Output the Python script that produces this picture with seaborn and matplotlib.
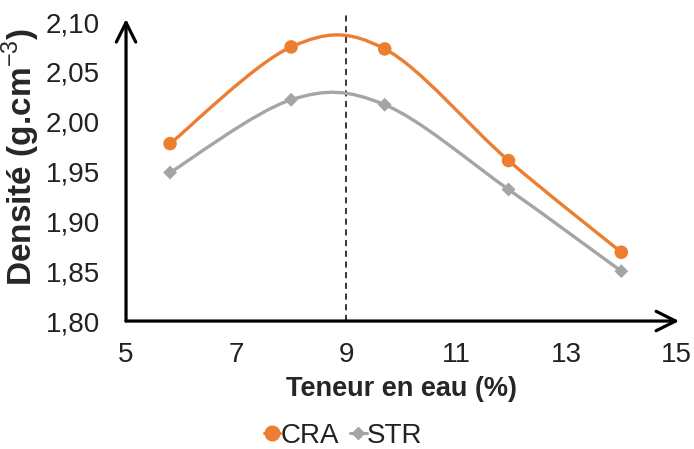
import matplotlib
matplotlib.use('Agg')
import matplotlib.pyplot as plt
import numpy as np
import pandas as pd
import seaborn as sns
from matplotlib.path import Path
from matplotlib.patches import PathPatch
from matplotlib.lines import Line2D

# Data
teneur = [5.8, 8.0, 9.7, 11.95, 14.0]
cra = [1.978, 2.075, 2.073, 1.961, 1.869]
strv = [1.949, 2.022, 2.017, 1.932, 1.850]
series_names = ['CRA', 'STR']
colors = ['#ED7D31', '#A5A5A5']
x_ticks = [5, 7, 9, 11, 13, 15]
y_ticks = [1.80, 1.85, 1.90, 1.95, 2.00, 2.05, 2.10]
optimum = 9


def smooth_path(xs, ys):
    # Excel-like smoothed line: Catmull-Rom segments as cubic Bezier curves
    pts = np.column_stack([xs, ys])
    verts = [pts[0]]
    codes = [Path.MOVETO]
    n = len(pts)
    for i in range(n - 1):
        p0 = pts[max(i - 1, 0)]
        p1 = pts[i]
        p2 = pts[i + 1]
        p3 = pts[min(i + 2, n - 1)]
        c1 = p1 + (p2 - p0) / 6
        c2 = p2 - (p3 - p1) / 6
        verts += [c1, c2, p2]
        codes += [Path.CURVE4] * 3
    return Path(verts, codes)


def main():
    sns.set_style('white')
    plt.rcParams['font.family'] = ['Liberation Sans', 'DejaVu Sans']
    plt.rcParams['mathtext.fontset'] = 'custom'
    plt.rcParams['mathtext.rm'] = 'Liberation Sans'
    plt.rcParams['mathtext.bf'] = 'Liberation Sans:bold'

    df = pd.DataFrame({
        'Teneur': teneur * 2,
        'Densite': cra + strv,
        'Serie': ['CRA'] * len(cra) + ['STR'] * len(strv),
    })

    fig = plt.figure(figsize=(6.94, 4.49), dpi=100)
    ax = fig.add_axes([0.1816, 0.285, 0.793, 0.666])

    # smoothed lines
    for name, col in zip(series_names, colors):
        sub = df[df['Serie'] == name]
        patch = PathPatch(smooth_path(sub['Teneur'].values, sub['Densite'].values),
                          facecolor='none', edgecolor=col, lw=2.4, zorder=3)
        ax.add_patch(patch)

    sns.scatterplot(data=df, x='Teneur', y='Densite', hue='Serie', style='Serie',
                    markers={'CRA': 'o', 'STR': 'D'},
                    palette=dict(zip(series_names, colors)),
                    ax=ax, legend=False, zorder=4, edgecolor='none')
    sizes = np.where(df['Serie'] == 'CRA', 95, 50)
    ax.collections[0].set_sizes(sizes)

    ax.axvline(optimum, ymin=0, ymax=1.023, color='black', lw=1.1,
               ls=(0, (4, 3)), zorder=2, clip_on=False)

    ax.set_xlim(5, 15)
    ax.set_ylim(1.80, 2.10)
    ax.set_xticks(x_ticks)
    ax.set_yticks(y_ticks)
    ax.set_yticklabels([f'{v:.2f}'.replace('.', ',') for v in y_ticks])
    ax.tick_params(axis='both', labelsize=20, direction='out', length=6, width=2,
                   color='black', labelcolor='#222222')
    ax.tick_params(axis='y', pad=13)
    ax.tick_params(axis='x', pad=9)

    for side in ['top', 'right', 'left', 'bottom']:
        ax.spines[side].set_visible(False)

    # axes with arrows
    arrow = dict(arrowstyle='->,head_length=0.5,head_width=0.25', lw=2.3,
                 color='black', mutation_scale=28, shrinkA=0, shrinkB=0)
    ax.annotate('', xy=(1.005, 0), xytext=(0, 0), xycoords='axes fraction',
                arrowprops=arrow)
    ax.annotate('', xy=(0, 1.01), xytext=(0, 0), xycoords='axes fraction',
                arrowprops=arrow)

    ax.set_xlabel('Teneur en eau (%)', fontsize=19.5, fontweight='bold')
    ax.xaxis.set_label_coords(0.5, -0.185)
    ax.set_ylabel('Densité (g.cm$^{-3}$)', fontsize=24, fontweight='bold')
    ax.yaxis.set_label_coords(-0.152, 0.548)

    handles = [
        Line2D([], [], color=colors[0], marker='o', markersize=10.5, lw=2.2),
        Line2D([], [], color=colors[1], marker='D', markersize=6.5, lw=2.2),
    ]
    fig.legend(handles, series_names, loc='center', bbox_to_anchor=(0.494, 0.029),
               ncol=2, frameon=False, fontsize=20, handlelength=0.6,
               handletextpad=0.0, columnspacing=0.4, labelcolor='#222222')

    fig.savefig('out.png', dpi=100)


if __name__ == '__main__':
    main()
